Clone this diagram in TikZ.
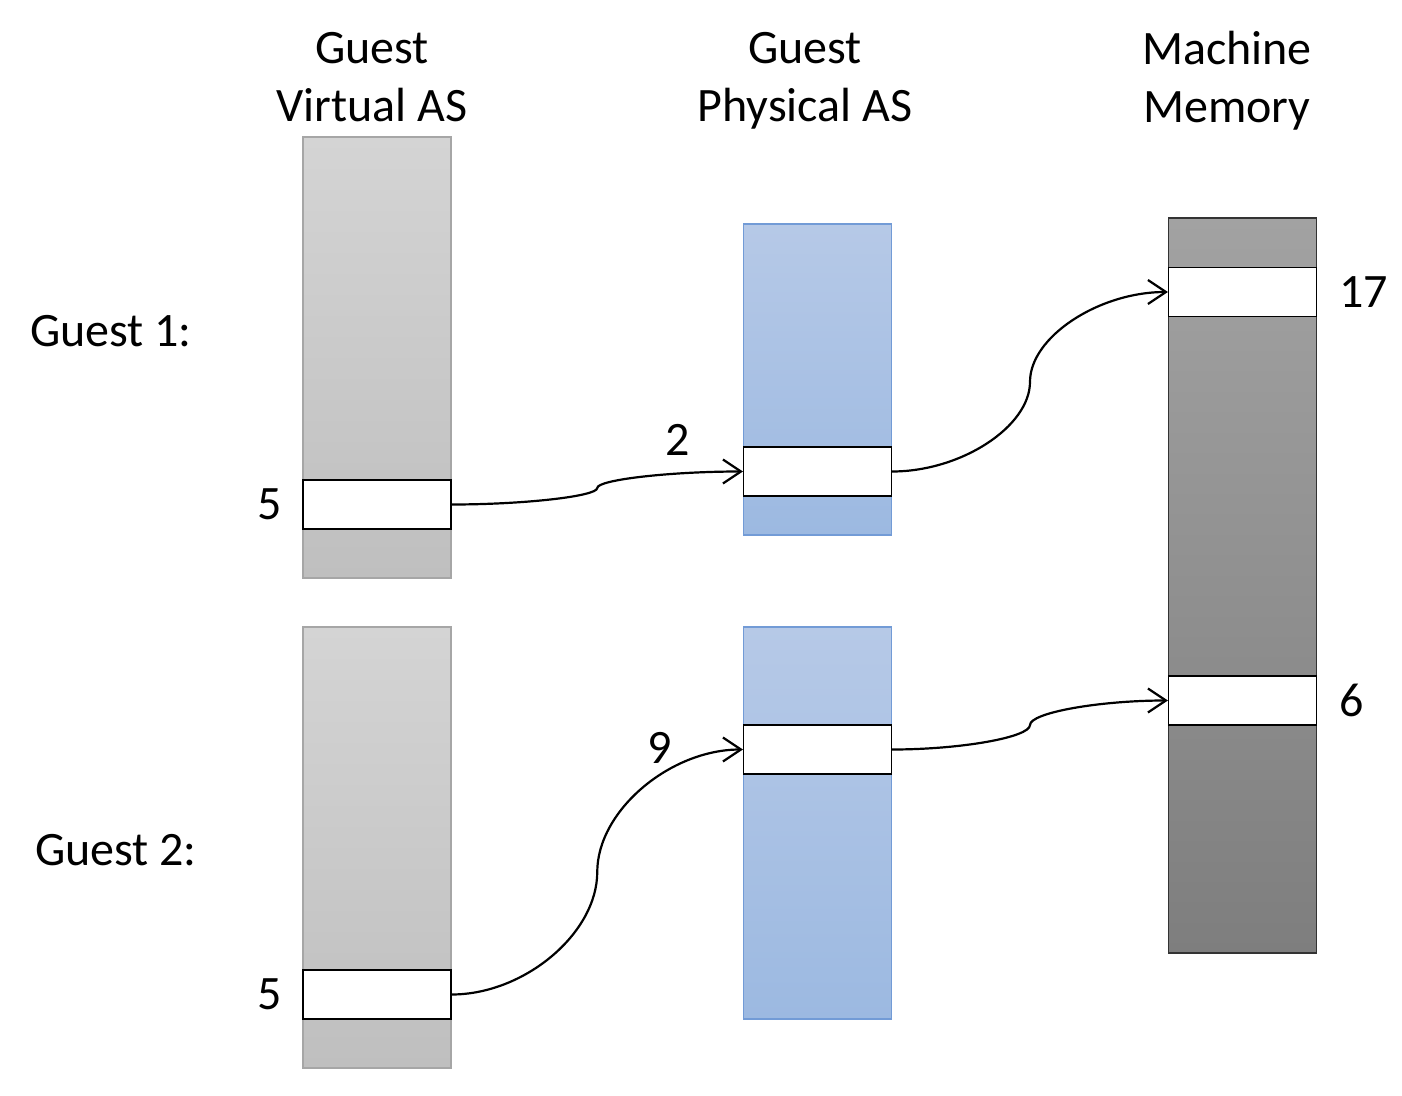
\documentclass[tikz,border=0pt]{standalone}
\usepackage{fontspec}
\setmainfont{Carlito}
\usetikzlibrary{positioning,calc,arrows.meta}

\definecolor{virttop}{RGB}{212,212,212}
\definecolor{virtbot}{RGB}{191,191,191}
\definecolor{virtline}{RGB}{166,166,166}
\definecolor{phystop}{RGB}{182,201,231}
\definecolor{physbot}{RGB}{156,185,225}
\definecolor{physline}{RGB}{114,155,214}
\definecolor{machtop}{RGB}{162,162,162}
\definecolor{machbot}{RGB}{126,126,126}

\tikzset{
  col/.style={minimum width=74pt, inner sep=0pt, line width=0.6pt},
  virt/.style={col, draw=virtline, top color=virttop, bottom color=virtbot},
  phys/.style={col, draw=physline, top color=phystop, bottom color=physbot},
  mach/.style={col, draw=black!80, top color=machtop, bottom color=machbot},
  slot/.style={draw=black, fill=white, minimum width=74pt, minimum height=24.5pt,
    inner sep=0pt, line width=0.6pt},
  title/.style={align=center, text depth=6pt, font=\fontsize{24}{29}\selectfont},
  lbl/.style={font=\fontsize{24}{28}\selectfont, inner sep=0pt},
  % curved connector, vertical in the middle
  curv/.style={-{Straight Barb[length=9pt,width=12pt]}, line width=1.1pt,
    to path={let \p1=(\tikztostart), \p2=(\tikztotarget) in
      .. controls ({0.75*\x1+0.25*\x2},\y1) and ({0.5*\x1+0.5*\x2},{0.75*\y1+0.25*\y2})
      .. ({0.5*\x1+0.5*\x2},{0.5*\y1+0.5*\y2})
      .. controls ({0.5*\x1+0.5*\x2},{0.25*\y1+0.75*\y2}) and ({0.25*\x1+0.75*\x2},\y2)
      .. (\tikztotarget)}}
}

\begin{document}
\begin{tikzpicture}[x=0.5pt,y=-0.5pt]
\useasboundingbox (0,0) rectangle (1402,1096);
% Column titles
\node[title] (tvirt) at (372,83) {Guest\\Virtual AS};
\node[title] (tphys) at (805,83) {Guest\\Physical AS};
\node[title] (tmach) at (1227,83) {Machine\\Memory};
% Guest 1
\node[virt, minimum height=220.5pt] (virt1) at (377,357.5) {};
\node[phys, minimum height=155.5pt] (phys1) at (817.5,379.5) {};
\node[lbl] (g1) at (111,331) {Guest 1:};
% Guest 2
\node[virt, minimum height=220.5pt] (virt2) at (377,847.5) {};
\node[phys, minimum height=196pt] (phys2) at (817.5,823) {};
\node[lbl] (g2) at (116,850) {Guest 2:};
% Machine memory
\node[mach, minimum height=367.5pt] (mach) at (1242.5,585.5) {};
% Pages
\node[slot] (v1) at (377,504.5) {};
\node[slot] (p1) at (817.5,471.5) {};
\node[slot] (v2) at (377,994.5) {};
\node[slot] (p2) at (817.5,749.5) {};
\node[slot] (m17) at (1242.5,292) {};
\node[slot] (m6) at (1242.5,700.5) {};
% Page numbers
\node[lbl, left=10pt of v1] (n5a) {5};
\node[lbl, left=10pt of v2] (n5b) {5};
\node[lbl, right=11pt of m17] (n17) {17};
\node[lbl, right=11pt of m6] (n6) {6};
\node[lbl] (n2) at (678,440) {2};
\node[lbl] (n9) at (660,748) {9};
% Mappings
\draw[curv] (v1.east) to (p1.west);
\draw[curv] (p1.east) to (m17.west);
\draw[curv] (v2.east) to (p2.west);
\draw[curv] (p2.east) to (m6.west);
\end{tikzpicture}
\end{document}
